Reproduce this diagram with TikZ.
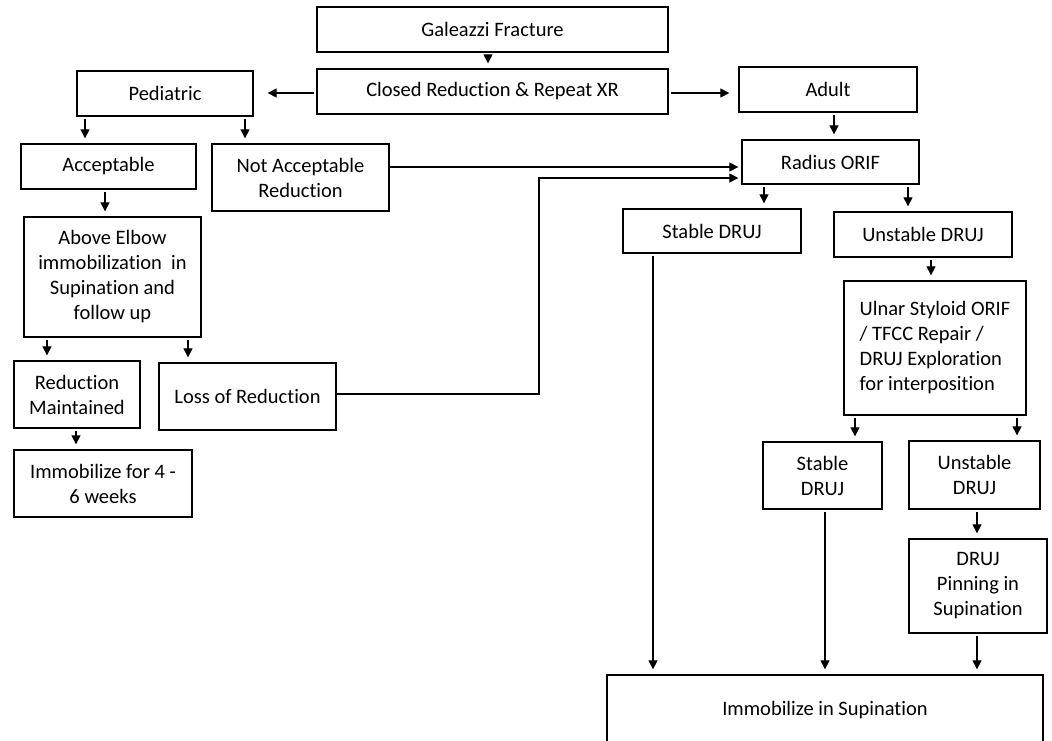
\documentclass[tikz,border=0pt]{standalone}
\usepackage{fontspec}
\setmainfont{Carlito}[Ligatures=NoCommon]
\usetikzlibrary{arrows.meta}

\begin{document}
\begin{tikzpicture}[x=1pt,y=-1pt,>={Triangle[length=9pt,width=9pt]},
        box/.style={draw,line width=1.3pt,align=center,inner sep=2pt,
                    font=\fontsize{20.5}{25}\selectfont},
        arr/.style={->,line width=1.1pt,shorten >=5pt,shorten <=2pt}]
        \clip (0,0) rectangle (1052,740);

        \node[box,minimum width=351,minimum height=45] (gal) at (492.5,29.5) {Galeazzi Fracture};
        \node[box,minimum width=351,minimum height=45] (clo) at (492.5,91.5) {Closed Reduction \& Repeat XR};
        \node[box,minimum width=176,minimum height=45] (ped) at (165,93.5) {Pediatric};
        \node[box,minimum width=178,minimum height=45] (adu) at (828,89.5) {Adult};
        \node[box,minimum width=177,minimum height=44] (rad) at (830.5,162) {Radius ORIF};
        \node[box,minimum width=175,minimum height=45] (acc) at (108.5,166.5) {Acceptable};
        \node[box,minimum width=177,minimum height=67] (nac) at (300.5,177.5) {Not Acceptable\\Reduction};
        \node[box,minimum width=177,minimum height=120] (abv) at (112.5,277) {Above Elbow\\immobilization\ \ in\\Supination and\\follow up};
        \node[box,minimum width=178,minimum height=44] (sd1) at (712,231) {Stable DRUJ};
        \node[box,minimum width=178,minimum height=45] (ud1) at (923,234.5) {Unstable DRUJ};
        \node[box,align=left,minimum width=182,minimum height=134] (uln) at (935,348) {Ulnar Styloid ORIF\\/ TFCC Repair /\\DRUJ Exploration\\for interposition};
        \node[box,minimum width=126,minimum height=67] (rm) at (77,394.5) {Reduction\\Maintained};
        \node[box,minimum width=177,minimum height=67] (lor) at (247.5,396.5) {Loss of Reduction};
        \node[box,minimum width=178,minimum height=67] (imm) at (103,483.5) {Immobilize for 4 -\\6 weeks};
        \node[box,minimum width=119,minimum height=67] (sd2) at (822.5,475.5) {Stable\\DRUJ};
        \node[box,minimum width=131,minimum height=68] (ud2) at (974.5,475) {Unstable\\DRUJ};
        \node[box,minimum width=138,minimum height=94] (pin) at (978,586) {DRUJ\\Pinning in\\Supination};
        \node[box,minimum width=436,minimum height=70] (sup) at (825,710) {Immobilize in Supination};

        \foreach \a/\b/\x in {gal/clo/488,ped/acc/85,ped/nac/245,acc/abv/105,abv/rm/47,abv/lor/188,
                              rm/imm/76,adu/rad/834,rad/sd1/764,rad/ud1/908,sd1/sup/653,ud1/uln/931,
                              uln/sd2/855,uln/ud2/1017,sd2/sup/825,ud2/pin/977,pin/sup/977}
            \draw[arr] (\a.south -| \x,0) -- (\b.north -| \x,0);

        \draw[arr,shorten >=14pt] (clo.west |- 0,93) -- (ped.east |- 0,93);
        \draw[arr,shorten >=9pt] (clo.east |- 0,93) -- (adu.west |- 0,93);
        \draw[arr,shorten >=3pt,shorten <=0pt] (nac.east |- 0,167) -- (rad.west |- 0,167);
        \draw[arr,shorten >=3pt,shorten <=0pt] (lor.east |- 0,394) -- (539,394) -- (539,178) -- (rad.west |- 0,178);
\end{tikzpicture}
\end{document}
